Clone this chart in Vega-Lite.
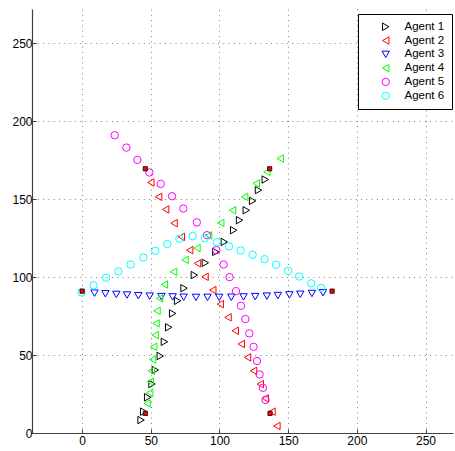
{
  "$schema": "https://vega.github.io/schema/vega-lite/v6.json",
  "width": 421,
  "height": 424,
  "autosize": {"type": "none"},
  "padding": {"left": 32, "top": 9, "right": 2, "bottom": 18},
  "background": "white",
  "config": {
    "view": {"stroke": null},
    "axis": {
      "labelFont": "Liberation Sans",
      "labelFontSize": 12,
      "labelColor": "#000000",
      "domainColor": "#404040",
      "domainWidth": 1.2,
      "ticks": true,
      "tickSize": -4,
      "tickColor": "#404040",
      "tickWidth": 1,
      "grid": true,
      "gridColor": "#808080",
      "gridDash": [1, 4.3]
    },
    "legend": {
      "labelFont": "Liberation Sans",
      "labelFontSize": 11.5,
      "labelColor": "#000000",
      "symbolStrokeWidth": 1,
      "symbolSize": 50
    }
  },
  "datasets": {
    "agents": [
      {"agent": "Agent 1", "x": 42.9, "y": 8.3},
      {"agent": "Agent 1", "x": 44.8, "y": 13.7},
      {"agent": "Agent 1", "x": 47.7, "y": 22.9},
      {"agent": "Agent 1", "x": 50.9, "y": 31.4},
      {"agent": "Agent 1", "x": 53.3, "y": 40.4},
      {"agent": "Agent 1", "x": 56.9, "y": 49.4},
      {"agent": "Agent 1", "x": 59.9, "y": 58.5},
      {"agent": "Agent 1", "x": 63.0, "y": 67.8},
      {"agent": "Agent 1", "x": 65.9, "y": 76.7},
      {"agent": "Agent 1", "x": 69.5, "y": 84.8},
      {"agent": "Agent 1", "x": 74.2, "y": 92.9},
      {"agent": "Agent 1", "x": 81.7, "y": 101.3},
      {"agent": "Agent 1", "x": 89.7, "y": 109.2},
      {"agent": "Agent 1", "x": 97.3, "y": 116.2},
      {"agent": "Agent 1", "x": 103.5, "y": 122.6},
      {"agent": "Agent 1", "x": 110.3, "y": 130.1},
      {"agent": "Agent 1", "x": 114.6, "y": 136.5},
      {"agent": "Agent 1", "x": 119.5, "y": 142.9},
      {"agent": "Agent 1", "x": 124.1, "y": 148.9},
      {"agent": "Agent 1", "x": 128.4, "y": 155.8},
      {"agent": "Agent 1", "x": 133.3, "y": 162.6},
      {"agent": "Agent 2", "x": 50.0, "y": 160.7},
      {"agent": "Agent 2", "x": 55.7, "y": 151.5},
      {"agent": "Agent 2", "x": 60.8, "y": 143.4},
      {"agent": "Agent 2", "x": 66.9, "y": 134.6},
      {"agent": "Agent 2", "x": 72.2, "y": 125.8},
      {"agent": "Agent 2", "x": 78.3, "y": 117.3},
      {"agent": "Agent 2", "x": 84.0, "y": 108.8},
      {"agent": "Agent 2", "x": 89.5, "y": 100.2},
      {"agent": "Agent 2", "x": 95.1, "y": 91.7},
      {"agent": "Agent 2", "x": 100.6, "y": 82.7},
      {"agent": "Agent 2", "x": 106.2, "y": 74.2},
      {"agent": "Agent 2", "x": 111.5, "y": 65.6},
      {"agent": "Agent 2", "x": 115.9, "y": 57.1},
      {"agent": "Agent 2", "x": 120.4, "y": 48.5},
      {"agent": "Agent 2", "x": 124.8, "y": 39.9},
      {"agent": "Agent 2", "x": 129.7, "y": 31.4},
      {"agent": "Agent 2", "x": 133.3, "y": 22.2},
      {"agent": "Agent 2", "x": 138.2, "y": 13.7},
      {"agent": "Agent 2", "x": 141.8, "y": 4.5},
      {"agent": "Agent 3", "x": 9.0, "y": 89.7},
      {"agent": "Agent 3", "x": 16.9, "y": 89.3},
      {"agent": "Agent 3", "x": 24.9, "y": 88.9},
      {"agent": "Agent 3", "x": 32.7, "y": 88.5},
      {"agent": "Agent 3", "x": 40.9, "y": 88.1},
      {"agent": "Agent 3", "x": 49.2, "y": 87.8},
      {"agent": "Agent 3", "x": 57.7, "y": 87.5},
      {"agent": "Agent 3", "x": 65.9, "y": 87.3},
      {"agent": "Agent 3", "x": 73.9, "y": 87.1},
      {"agent": "Agent 3", "x": 82.9, "y": 87.0},
      {"agent": "Agent 3", "x": 91.3, "y": 87.0},
      {"agent": "Agent 3", "x": 99.8, "y": 87.0},
      {"agent": "Agent 3", "x": 108.6, "y": 87.1},
      {"agent": "Agent 3", "x": 117.5, "y": 87.3},
      {"agent": "Agent 3", "x": 126.0, "y": 87.5},
      {"agent": "Agent 3", "x": 134.5, "y": 87.8},
      {"agent": "Agent 3", "x": 142.5, "y": 88.2},
      {"agent": "Agent 3", "x": 150.9, "y": 88.6},
      {"agent": "Agent 3", "x": 158.8, "y": 89.0},
      {"agent": "Agent 3", "x": 167.3, "y": 89.5},
      {"agent": "Agent 3", "x": 175.3, "y": 90.0},
      {"agent": "Agent 4", "x": 47.3, "y": 19.0},
      {"agent": "Agent 4", "x": 49.2, "y": 25.8},
      {"agent": "Agent 4", "x": 49.7, "y": 32.9},
      {"agent": "Agent 4", "x": 50.4, "y": 39.9},
      {"agent": "Agent 4", "x": 51.3, "y": 47.2},
      {"agent": "Agent 4", "x": 52.1, "y": 55.3},
      {"agent": "Agent 4", "x": 53.3, "y": 62.8},
      {"agent": "Agent 4", "x": 53.8, "y": 70.3},
      {"agent": "Agent 4", "x": 54.5, "y": 78.4},
      {"agent": "Agent 4", "x": 56.4, "y": 86.3},
      {"agent": "Agent 4", "x": 59.9, "y": 95.3},
      {"agent": "Agent 4", "x": 66.6, "y": 103.4},
      {"agent": "Agent 4", "x": 74.9, "y": 111.1},
      {"agent": "Agent 4", "x": 83.6, "y": 118.6},
      {"agent": "Agent 4", "x": 92.1, "y": 126.7},
      {"agent": "Agent 4", "x": 100.9, "y": 134.8},
      {"agent": "Agent 4", "x": 109.5, "y": 142.9},
      {"agent": "Agent 4", "x": 118.3, "y": 151.5},
      {"agent": "Agent 4", "x": 126.8, "y": 160.1},
      {"agent": "Agent 4", "x": 134.5, "y": 167.5},
      {"agent": "Agent 4", "x": 144.2, "y": 176.1},
      {"agent": "Agent 5", "x": 23.7, "y": 191.0},
      {"agent": "Agent 5", "x": 32.2, "y": 183.1},
      {"agent": "Agent 5", "x": 40.2, "y": 175.2},
      {"agent": "Agent 5", "x": 49.0, "y": 167.1},
      {"agent": "Agent 5", "x": 57.2, "y": 159.8},
      {"agent": "Agent 5", "x": 65.5, "y": 151.9},
      {"agent": "Agent 5", "x": 73.7, "y": 144.0},
      {"agent": "Agent 5", "x": 83.5, "y": 135.1},
      {"agent": "Agent 5", "x": 90.9, "y": 126.9},
      {"agent": "Agent 5", "x": 97.7, "y": 117.3},
      {"agent": "Agent 5", "x": 103.0, "y": 108.1},
      {"agent": "Agent 5", "x": 107.3, "y": 100.0},
      {"agent": "Agent 5", "x": 112.0, "y": 91.0},
      {"agent": "Agent 5", "x": 115.6, "y": 81.6},
      {"agent": "Agent 5", "x": 118.8, "y": 73.1},
      {"agent": "Agent 5", "x": 121.7, "y": 63.9},
      {"agent": "Agent 5", "x": 124.8, "y": 55.3},
      {"agent": "Agent 5", "x": 127.3, "y": 46.2},
      {"agent": "Agent 5", "x": 129.2, "y": 37.6},
      {"agent": "Agent 5", "x": 131.6, "y": 29.0},
      {"agent": "Agent 5", "x": 133.5, "y": 21.2},
      {"agent": "Agent 6", "x": -0.5, "y": 90.2},
      {"agent": "Agent 6", "x": 8.4, "y": 94.7},
      {"agent": "Agent 6", "x": 17.5, "y": 99.6},
      {"agent": "Agent 6", "x": 26.4, "y": 103.7},
      {"agent": "Agent 6", "x": 35.3, "y": 108.1},
      {"agent": "Agent 6", "x": 44.6, "y": 112.6},
      {"agent": "Agent 6", "x": 53.3, "y": 116.9},
      {"agent": "Agent 6", "x": 62.0, "y": 121.2},
      {"agent": "Agent 6", "x": 70.8, "y": 124.6},
      {"agent": "Agent 6", "x": 80.4, "y": 126.3},
      {"agent": "Agent 6", "x": 89.3, "y": 125.0},
      {"agent": "Agent 6", "x": 98.2, "y": 122.4},
      {"agent": "Agent 6", "x": 106.9, "y": 119.7},
      {"agent": "Agent 6", "x": 115.3, "y": 117.1},
      {"agent": "Agent 6", "x": 124.1, "y": 114.3},
      {"agent": "Agent 6", "x": 132.8, "y": 111.5},
      {"agent": "Agent 6", "x": 141.1, "y": 107.9},
      {"agent": "Agent 6", "x": 150.0, "y": 104.0},
      {"agent": "Agent 6", "x": 158.0, "y": 100.4},
      {"agent": "Agent 6", "x": 166.8, "y": 96.0},
      {"agent": "Agent 6", "x": 174.0, "y": 93.1}
    ],
    "targets": [
      {"x": 0, "y": 91},
      {"x": 46, "y": 169.5},
      {"x": 136.5, "y": 169.5},
      {"x": 182, "y": 91},
      {"x": 46, "y": 12.6},
      {"x": 136.8, "y": 12.6}
    ]
  },
  "layer": [
    {
      "data": {"name": "agents"},
      "mark": {"type": "point", "filled": false, "strokeWidth": 1, "opacity": 1},
      "encoding": {
        "x": {
          "field": "x", "type": "quantitative",
          "scale": {"domain": [-36.5, 270], "nice": false, "zero": false},
          "axis": {"values": [0, 50, 100, 150, 200, 250], "labelPadding": 6, "title": null}
        },
        "y": {
          "field": "y", "type": "quantitative",
          "scale": {"domain": [0, 272], "nice": false, "zero": false},
          "axis": {"values": [0, 50, 100, 150, 200, 250], "labelPadding": 4, "title": null}
        },
        "color": {
          "field": "agent", "type": "nominal",
          "scale": {
            "domain": ["Agent 1", "Agent 2", "Agent 3", "Agent 4", "Agent 5", "Agent 6"],
            "range": ["#000000", "#ff0000", "#0000ff", "#00ff00", "#ff00ff", "#00ffff"]
          },
          "legend": {
            "title": null,
            "orient": "none",
            "legendX": 326,
            "legendY": 5,
            "padding": 7,
            "strokeColor": "#000000",
            "fillColor": "#ffffff",
            "symbolOffset": 15,
            "labelOffset": 13,
            "rowPadding": 0.8
          }
        },
        "shape": {
          "field": "agent", "type": "nominal",
          "scale": {
            "domain": ["Agent 1", "Agent 2", "Agent 3", "Agent 4", "Agent 5", "Agent 6"],
            "range": ["triangle-right", "triangle-left", "triangle-down", "triangle-left", "circle", "circle"]
          },
          "legend": {
            "title": null,
            "orient": "none",
            "legendX": 326,
            "legendY": 5
          }
        },
        "size": {
          "field": "agent", "type": "ordinal",
          "scale": {
            "domain": ["Agent 1", "Agent 2", "Agent 3", "Agent 4", "Agent 5", "Agent 6"],
            "range": [55, 55, 55, 55, 38, 38]
          },
          "legend": null
        }
      }
    },
    {
      "data": {"name": "targets"},
      "mark": {"type": "point", "shape": "square", "filled": true, "fill": "#ff0000", "stroke": "#000000", "strokeWidth": 0.8, "size": 18, "opacity": 1},
      "encoding": {
        "x": {"field": "x", "type": "quantitative"},
        "y": {"field": "y", "type": "quantitative"}
      }
    }
  ]
}
